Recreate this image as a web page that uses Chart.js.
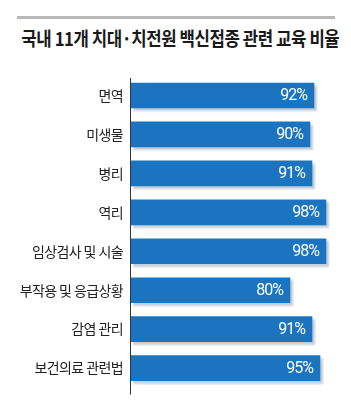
<!DOCTYPE html>
<html><head><meta charset="utf-8">
<script src="https://cdn.jsdelivr.net/npm/chart.js@4/dist/chart.umd.min.js"></script>
<style>
html,body{margin:0;padding:0;background:#fff;}
#wrap{position:relative;width:351px;height:403px;}
#rule{position:absolute;left:17px;top:16px;width:318px;height:3px;background:#b8b8b8;}
#title{position:absolute;left:0;top:26px;width:351px;text-align:center;white-space:nowrap;
  font-family:"Noto Sans CJK KR",sans-serif;font-weight:bold;font-size:19px;line-height:24px;color:#1a1a1a;letter-spacing:-0.5px;}
#title span{display:inline-block;transform-origin:50% 50%;}
canvas{position:absolute;left:0;top:0;}
</style>
</head><body><div id="wrap"><div id="rule"></div><div id="title"><span id="tt"></span></div><canvas id="c" width="351" height="403"></canvas></div>
<script>
const titleText = '국내 11개 치대·치전원 백신접종 관련 교육 비율';
const categories = ['면역','미생물','병리','역리','임상검사 및 시술','부작용 및 응급상황','감염 관리','보건의료 관련법'];
const values = [92,90,91,98,98,80,91,95];
const valueLabels = ['92%','90%','91%','98%','98%','80%','91%','95%'];

const tt = document.getElementById('tt');
tt.textContent = titleText;
const w = tt.getBoundingClientRect().width;
tt.style.transform = 'scaleX(' + (318 / w) + ')';

const deco = {
  id:'deco',
  beforeDraw(chart){
    chart.ctx.letterSpacing = '-0.6px';
  },
  beforeDatasetsDraw(chart){
    const ctx = chart.ctx;
    ctx.save();
    ctx.shadowColor = 'rgba(150,165,180,0.55)';
    ctx.shadowOffsetX = 3;
    ctx.shadowOffsetY = 3;
    ctx.shadowBlur = 2;
  },
  afterDatasetsDraw(chart){
    const ctx = chart.ctx;
    ctx.restore();
    const a = chart.chartArea;
    ctx.save();
    ctx.strokeStyle = '#333';
    ctx.lineWidth = 1;
    ctx.beginPath();
    ctx.moveTo(a.left+0.5, a.top+2);
    ctx.lineTo(a.left+0.5, a.bottom+7);
    ctx.stroke();
    const meta = chart.getDatasetMeta(0);
    ctx.fillStyle = '#fff';
    ctx.font = '16px "Liberation Sans Narrow","Roboto","Noto Sans",sans-serif';
    ctx.letterSpacing = '-1px';
    ctx.textAlign = 'right';
    ctx.textBaseline = 'middle';
    meta.data.forEach((bar,i)=>{
      ctx.fillText(valueLabels[i], bar.x-7, bar.y+1);
    });
    ctx.restore();
  }
};

new Chart(document.getElementById('c'),{
  type:'bar',
  data:{labels:categories,datasets:[{data:values,backgroundColor:'#1a74bf',borderWidth:0,barThickness:25}]},
  options:{
    indexAxis:'y',
    responsive:false,
    animation:false,
    layout:{padding:{left:0,right:21,top:76,bottom:15}},
    plugins:{legend:{display:false},tooltip:{enabled:false},title:{display:false}},
    scales:{
      x:{min:0,max:100,display:false},
      y:{
        afterFit(s){s.width=130;},
        grid:{display:false,drawTicks:false},
        border:{display:false},
        ticks:{color:'#222',padding:7,font:{family:'"Noto Sans CJK KR",sans-serif',size:14}}
      }
    }
  },
  plugins:[deco]
});
</script></body></html>
